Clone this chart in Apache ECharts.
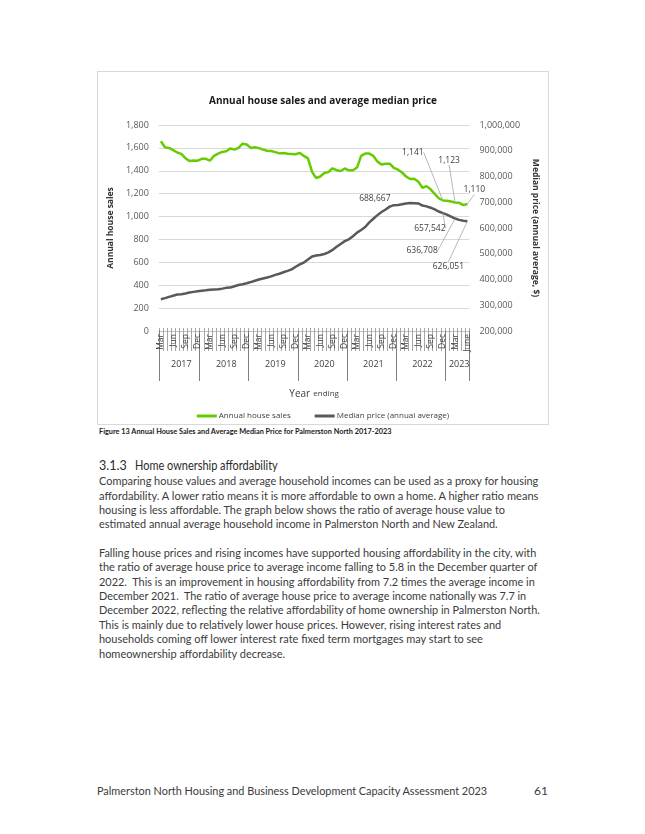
<!DOCTYPE html>
<html><head><meta charset="utf-8">
<script src="https://cdn.jsdelivr.net/npm/echarts@6/dist/echarts.min.js"></script>
<style>
body{margin:0;background:#fff;width:645px;height:834px;position:relative;overflow:hidden;font-family:Lato,"Open Sans",sans-serif;}
#chart{position:absolute;left:97px;top:71px;width:450px;height:352px;border:1px solid #d9d9d9;}
.ln{position:absolute;left:99px;white-space:nowrap;color:#3b3b3b;font-size:12px;line-height:14px;height:14px;transform-origin:0 50%;}
.cap{font-weight:bold;font-size:7.5px;color:#1a1a1a;line-height:10px;height:10px;}
.hd{font-size:12.5px;color:#2b2b2b;}
</style></head><body>
<div id="chart"></div>
<div class="ln cap" data-w="292" style="top:427px">Figure 13 Annual House Sales and Average Median Price for Palmerston North 2017-2023</div>
<div class="ln hd" data-w="28" style="top:459px">3.1.3</div>
<div class="ln hd" data-w="143" style="top:459px;left:135px">Home ownership affordability</div>
<div class="ln" data-w="439" style="top:474px">Comparing house values and average household incomes can be used as a proxy for housing</div>
<div class="ln" data-w="439" style="top:489px">affordability. A lower ratio means it is more affordable to own a home. A higher ratio means</div>
<div class="ln" data-w="406" style="top:503px">housing is less affordable. The graph below shows the ratio of average house value to</div>
<div class="ln" data-w="399" style="top:517px">estimated annual average household income in Palmerston North and New Zealand.</div>
<div class="ln" data-w="437" style="top:546px">Falling house prices and rising incomes have supported housing affordability in the city, with</div>
<div class="ln" data-w="438" style="top:560px">the ratio of average house price to average income falling to 5.8 in the December quarter of</div>
<div class="ln" data-w="436" style="top:575px">2022.&nbsp; This is an improvement in housing affordability from 7.2 times the average income in</div>
<div class="ln" data-w="427" style="top:589px">December 2021.&nbsp; The ratio of average house price to average income nationally was 7.7 in</div>
<div class="ln" data-w="441" style="top:603px">December 2022, reflecting the relative affordability of home ownership in Palmerston North.</div>
<div class="ln" data-w="402" style="top:618px">This is mainly due to relatively lower house prices. However, rising interest rates and</div>
<div class="ln" data-w="384" style="top:632px">households coming off lower interest rate fixed term mortgages may start to see</div>
<div class="ln" data-w="186" style="top:647px">homeownership affordability decrease.</div>
<div class="ln" data-w="390" style="top:784px;left:97px">Palmerston North Housing and Business Development Capacity Assessment 2023</div>
<div class="ln" style="top:784px;left:534px">61</div>
<script>
// fit text lines to measured widths
document.querySelectorAll('.ln[data-w]').forEach(function(el){
  var w = +el.getAttribute('data-w');
  var nat = el.scrollWidth;
  if (nat > 0) el.style.transform = 'scaleX(' + (w / nat) + ')';
});

// ---- data ----
const months = [
 'Mar','Apr','May','Jun','Jul','Aug','Sep','Oct','Nov','Dec',
 'Jan','Feb','Mar','Apr','May','Jun','Jul','Aug','Sep','Oct','Nov','Dec',
 'Jan','Feb','Mar','Apr','May','Jun','Jul','Aug','Sep','Oct','Nov','Dec',
 'Jan','Feb','Mar','Apr','May','Jun','Jul','Aug','Sep','Oct','Nov','Dec',
 'Jan','Feb','Mar','Apr','May','Jun','Jul','Aug','Sep','Oct','Nov','Dec',
 'Jan','Feb','Mar','Apr','May','Jun','Jul','Aug','Sep','Oct','Nov','Dec',
 'Jan','Feb','Mar','Apr','May','June'
];
const years = [
 '2017','2017','2017','2017','2017','2017','2017','2017','2017','2017',
 '2018','2018','2018','2018','2018','2018','2018','2018','2018','2018','2018','2018',
 '2019','2019','2019','2019','2019','2019','2019','2019','2019','2019','2019','2019',
 '2020','2020','2020','2020','2020','2020','2020','2020','2020','2020','2020','2020',
 '2021','2021','2021','2021','2021','2021','2021','2021','2021','2021','2021','2021',
 '2022','2022','2022','2022','2022','2022','2022','2022','2022','2022','2022','2022',
 '2023','2023','2023','2023','2023','2023'
];
const houseSales = [
 1658,1605,1600,1580,1560,1548,1510,1485,1490,1488,
 1505,1505,1488,1530,1550,1565,1570,1595,1585,1600,1637,1630,
 1600,1605,1598,1585,1575,1573,1563,1552,1556,1548,1546,1544,
 1556,1530,1508,1390,1337,1350,1380,1388,1422,1405,1398,1420,
 1404,1404,1428,1530,1550,1550,1530,1480,1455,1462,1462,1425,
 1410,1385,1350,1328,1330,1305,1252,1266,1238,1198,1160,1141,
 1138,1131,1123,1120,1100,1110
];
const medianPrice = [
 323000,327500,332500,337000,341500,343000,346000,349500,352000,354500,
 356500,358000,360000,361500,362500,364500,367500,368500,374000,378500,381500,385500,
 390000,395000,400000,404000,407500,412000,418000,422500,428000,433500,439500,449500,
 459000,466000,478000,489000,493000,495500,499000,505500,515000,527000,538000,549000,
 556000,568000,582000,592000,604000,622000,636000,650000,662000,672000,683000,688667,
 689500,692000,695500,697000,696500,695500,687000,684000,678800,672000,664000,657542,
 652000,644500,636708,631500,628000,626051
];
const salesLabelIdx = [69,72,75];
const priceLabelIdx = [57,69,72,75];
const leftTicks = {min:0,max:1800,interval:200};
const rightTicks = {min:200000,max:1000000,interval:100000};

// label offsets (layout only)
const salesOffsets = {69:[-30,-48],72:[-6,-42],75:[7,-14]};
const priceOffsets = {57:[-19,-7],69:[-13,15],72:[-33,32],75:[-19,45]};
const noLeader = {57:true};

const fmt = v => Number(v).toLocaleString('en-US');
const FONT = '"Open Sans", Lato, sans-serif';
const GREEN = '#66cc00', GREY = '#595959';

function withLabels(arr, idx){
  return arr.map((v,i)=> idx.indexOf(i)>=0 ? {value:v,label:{show:true},labelLine:{show:!noLeader[i]}} : v);
}
const yearStart = (i)=> i===0 || months[i]==='Jan';
const yearMid = (i)=> (years[i]==='2017' && i===5) || (years[i]!=='2017' && years[i]!=='2023' && months[i]==='Jul') || (years[i]==='2023' && months[i]==='Apr');

const chart = echarts.init(document.getElementById('chart'), null, {renderer:'canvas'});
chart.setOption({
  animation:false,
  textStyle:{fontFamily:FONT},
  title:{text:'Annual house sales and average median price',left:'center',top:19,
    textStyle:{fontSize:10,fontWeight:'bold',color:'#1a1a1a',fontFamily:FONT}},
  legend:{top:335,left:'center',icon:'rect',itemWidth:20,itemHeight:3,itemGap:24,
    textStyle:{fontSize:8,color:'#404040',padding:[0,0,0,-3]},
    data:['Annual house sales','Median price (annual average)']},
  grid:{left:54,right:72,top:53,bottom:93},
  xAxis:[
    {type:'category',data:months,position:'bottom',boundaryGap:true,
     axisLine:{show:true,onZero:false,lineStyle:{color:'#bfbfbf',width:1}},
     axisTick:{show:true,interval:0,length:20,lineStyle:{color:'#a6a6a6',width:1}},
     axisLabel:{show:true,interval:2,rotate:90,fontSize:8.5,margin:3,color:'#404040'},
     splitLine:{show:false}},
    {type:'category',data:months,position:'bottom',boundaryGap:true,
     axisLine:{show:false,onZero:false},axisTick:{show:true,interval:0,inside:true,length:3,lineStyle:{color:'#a6a6a6',width:1}},
     axisLabel:{show:false},splitLine:{show:false}},
    {type:'category',data:years,position:'bottom',boundaryGap:true,
     axisLine:{show:false,onZero:false},axisTick:{show:true,interval:yearStart,length:50,lineStyle:{color:'#7f7f7f',width:1}},
     axisLabel:{show:true,interval:yearMid,margin:29,fontSize:9,color:'#404040'},
     splitLine:{show:false},
     name:'{a|Year} {b|ending}',nameLocation:'middle',nameGap:57,
     nameTextStyle:{rich:{a:{fontSize:10,color:'#404040',fontFamily:FONT},b:{fontSize:8,color:'#404040',fontFamily:FONT}}}}
  ],
  yAxis:[
    {type:'value',min:leftTicks.min,max:leftTicks.max,interval:leftTicks.interval,position:'left',
     axisLine:{show:false},axisTick:{show:false},
     splitLine:{show:true,lineStyle:{color:'#d9d9d9'}},
     axisLabel:{formatter:fmt,fontSize:9,color:'#595959',margin:10},
     name:'Annual house sales',nameLocation:'middle',nameGap:42,nameRotate:90,
     nameTextStyle:{fontSize:8.5,fontWeight:'bold',color:'#333'}},
    {type:'value',min:rightTicks.min,max:rightTicks.max,interval:rightTicks.interval,position:'right',
     axisLine:{show:false},axisTick:{show:false},splitLine:{show:false},
     axisLabel:{formatter:fmt,fontSize:9,color:'#595959',margin:10},
     name:'Median price (annual average, $)',nameLocation:'middle',nameGap:59,nameRotate:-90,
     nameTextStyle:{fontSize:8.5,fontWeight:'bold',color:'#333'}}
  ],
  series:[
    {name:'Annual house sales',type:'line',xAxisIndex:0,yAxisIndex:0,
     data:withLabels(houseSales,salesLabelIdx),
     showSymbol:true,showAllSymbol:true,symbol:'circle',symbolSize:0.1,
     itemStyle:{color:GREEN},lineStyle:{color:GREEN,width:2.5},
     label:{show:false,position:'inside',formatter:p=>fmt(p.value),fontSize:8.5,color:'#404040'},
     labelLine:{show:false,lineStyle:{color:'#a6a6a6',width:0.8}},
     labelLayout:p=>{const o=salesOffsets[p.dataIndex]; return o?{dx:o[0],dy:o[1]}:{};},
     z:3},
    {name:'Median price (annual average)',type:'line',xAxisIndex:0,yAxisIndex:1,
     data:withLabels(medianPrice,priceLabelIdx),
     showSymbol:true,showAllSymbol:true,symbol:'circle',symbolSize:0.1,
     itemStyle:{color:GREY},lineStyle:{color:GREY,width:2.5},
     label:{show:false,position:'inside',formatter:p=>fmt(p.value),fontSize:8.5,color:'#404040'},
     labelLine:{show:false,lineStyle:{color:'#a6a6a6',width:0.8}},
     labelLayout:p=>{const o=priceOffsets[p.dataIndex]; return o?{dx:o[0],dy:o[1]}:{};},
     z:2}
  ]
});
</script>
</body></html>
